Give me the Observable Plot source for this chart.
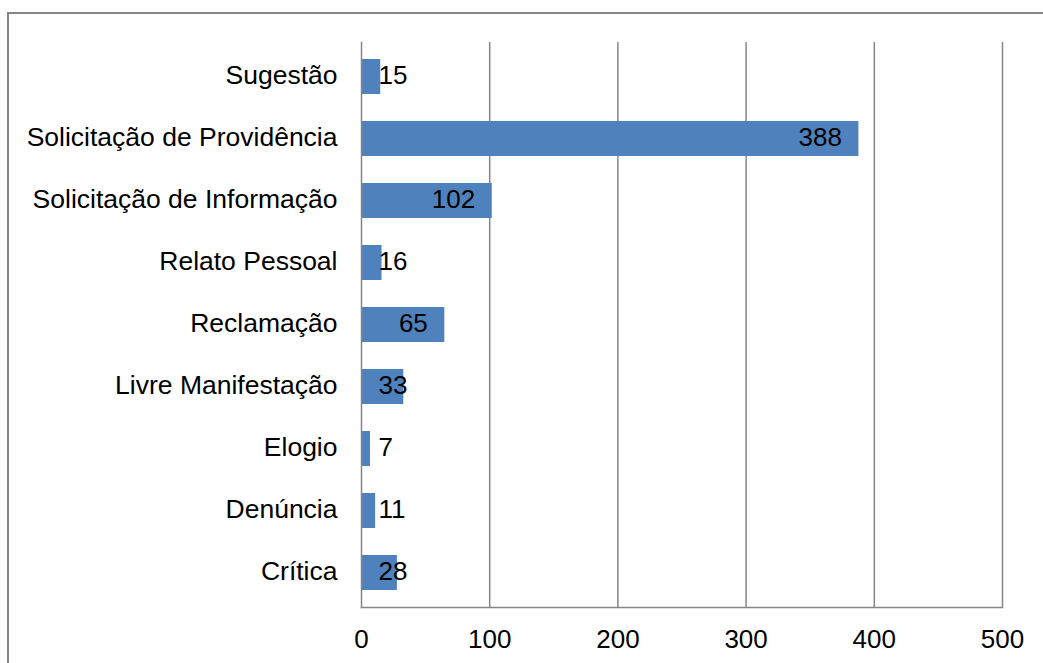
<!DOCTYPE html>
<html>
<head>
<meta charset="utf-8">
<script src="https://cdn.jsdelivr.net/npm/d3@7"></script>
<script src="https://cdn.jsdelivr.net/npm/@observablehq/plot@0.6"></script>
<style>
  html, body { margin: 0; padding: 0; background: #fff; }
  #wrap { position: relative; width: 1043px; height: 663px; overflow: hidden; }
  #frame { position: absolute; left: 7px; top: 12px; width: 1100px; height: 700px;
           border-left: 2px solid #868686; border-top: 2px solid #868686; box-sizing: border-box; pointer-events: none; }
  #chart { position: absolute; left: 0; top: 0; }
</style>
</head>
<body>
<div id="wrap"><div id="chart"></div><div id="frame"></div></div>
<script>
const categories = ["Sugestão", "Solicitação de Providência", "Solicitação de Informação", "Relato Pessoal",
  "Reclamação", "Livre Manifestação", "Elogio", "Denúncia", "Crítica"];
const values = [15, 388, 102, 16, 65, 33, 7, 11, 28];
const xTicks = [0, 100, 200, 300, 400, 500];

const data = categories.map((c, i) => ({category: c, value: values[i]}));
const insideThreshold = 48;

const chart = Plot.plot({
  width: 1043,
  height: 663,
  marginLeft: 361,
  marginRight: 41,
  marginTop: 42,
  marginBottom: 56,
  style: {fontFamily: "'Liberation Sans', Arial, sans-serif", fontSize: "26px", color: "#000", background: "transparent"},
  x: {domain: [0, 500], ticks: xTicks, label: null},
  y: {domain: categories, paddingInner: 0.43, paddingOuter: 0.215, label: null},
  marks: [
    Plot.ruleX(xTicks.slice(1), {stroke: "#868686", strokeWidth: 1.5}),
    Plot.barX(data, {y: "category", x: "value", fill: "#4F81BD"}),
    Plot.frame({anchor: "left", stroke: "#868686", strokeWidth: 1.5}),
    Plot.frame({anchor: "bottom", stroke: "#868686", strokeWidth: 1.5}),
    Plot.text(data.filter(d => d.value >= insideThreshold), {y: "category", x: "value", text: d => String(d.value),
      textAnchor: "end", dx: -17, dy: -1, fill: "#000", fontSize: 26}),
    Plot.text(data.filter(d => d.value < insideThreshold), {y: "category", x: () => 0, text: d => String(d.value),
      textAnchor: "start", dx: 17, dy: -1, fill: "#000", fontSize: 26}),
    Plot.axisX({ticks: xTicks, tickSize: 0, tickPadding: 22, fontSize: 26, label: null}),
    Plot.axisY({tickSize: 0, tickPadding: 24, fontSize: 26.5, dy: -1, label: null})
  ]
});
document.getElementById("chart").appendChild(chart);
</script>
</body>
</html>
